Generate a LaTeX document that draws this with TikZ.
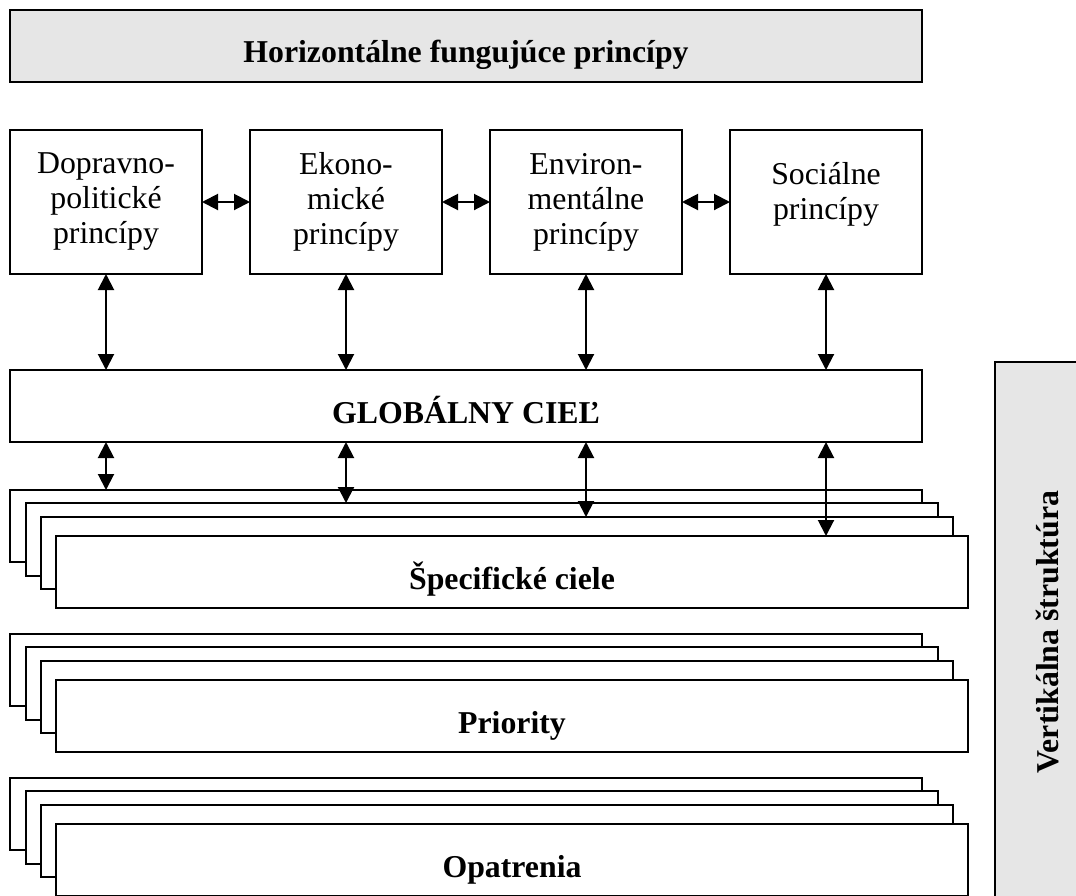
\documentclass[tikz,border=0pt]{standalone}
\usepackage{fontspec}
\setmainfont{Liberation Serif}
\usetikzlibrary{arrows.meta}
\definecolor{boxgray}{RGB}{230,230,230}
\begin{document}
\begin{tikzpicture}[x=1pt,y=-1pt,
  every node/.style={inner sep=0pt,outer sep=0pt},
  bx/.style={draw=black,line width=2pt,rectangle,fill=white},
  ttl/.style={font=\fontsize{31.8}{35}\selectfont\bfseries},
  reg/.style={font=\fontsize{31.8}{35}\selectfont, align=center},
  pbox/.style={bx, reg, minimum width=192pt, minimum height=144pt},
  wide/.style={bx, ttl, minimum width=912pt, minimum height=72pt, text height=34pt, text depth=0pt},
  dar/.style={{Triangle[length=16pt,width=16pt]}-{Triangle[length=16pt,width=16pt]}, line width=2pt}
]
\useasboundingbox (0,0) rectangle (1076,895);
\clip (0,0) rectangle (1076,895);

% top title
\node[wide, fill=boxgray, text height=32pt] (h) at (466,46) {Horizontálne fungujúce princípy};

% principle boxes
\node[pbox] (p1) at (106,202) {Dopravno-\\politické\\princípy};
\node[pbox] (p2) at (346,202) {Ekono-\\mické\\princípy};
\node[pbox] (p3) at (586,202) {Environ-\\mentálne\\princípy};
\node[pbox] (p4) at (826,202) {};
\node[reg] (p4t) at (826,194) {Sociálne\\princípy};

% global goal
\node[wide] (g) at (466,406) {GLOBÁLNY CIEĽ};

% specific goals stack
\node[wide] (sa) at (466,526) {};
\node[wide, minimum height=73pt] (sb) at (482,539.5) {};
\node[wide] (sc) at (497,553) {};
\node[wide] (sd) at (512,572) {Špecifické ciele};

% priorities stack
\node[wide] (pa) at (466,670) {};
\node[wide, minimum height=73pt] (pb) at (482,683.5) {};
\node[wide] (pc) at (497,697) {};
\node[wide] (pd) at (512,716) {Priority};

% measures stack
\node[wide] (oa) at (466,814) {};
\node[wide, minimum height=73pt] (ob) at (482,827.5) {};
\node[wide] (oc) at (497,841) {};
\node[wide] (od) at (512,860) {Opatrenia};

% vertical structure
\node[bx, fill=boxgray, anchor=north west, minimum width=100pt, minimum height=560pt] (v) at (995,362) {};
\node[ttl, rotate=90, anchor=base] (vt) at (1058,632) {Vertikálna štruktúra};

% horizontal arrows
\draw[dar] (p1.east) -- (p2.west);
\draw[dar] (p2.east) -- (p3.west);
\draw[dar] (p3.east) -- (p4.west);

% principles to global goal
\draw[dar] (p1.south) -- (p1.south |- g.north);
\draw[dar] (p2.south) -- (p2.south |- g.north);
\draw[dar] (p3.south) -- (p3.south |- g.north);
\draw[dar] (p4.south) -- (p4.south |- g.north);

% global goal to specific goals
\draw[dar] (g.south -| p1.south) -- (sa.north -| p1.south);
\draw[dar] (g.south -| p2.south) -- (sb.north -| p2.south);
\draw[dar] (g.south -| p3.south) -- (sc.north -| p3.south);
\draw[dar] (g.south -| p4.south) -- (sd.north -| p4.south);
\end{tikzpicture}
\end{document}
